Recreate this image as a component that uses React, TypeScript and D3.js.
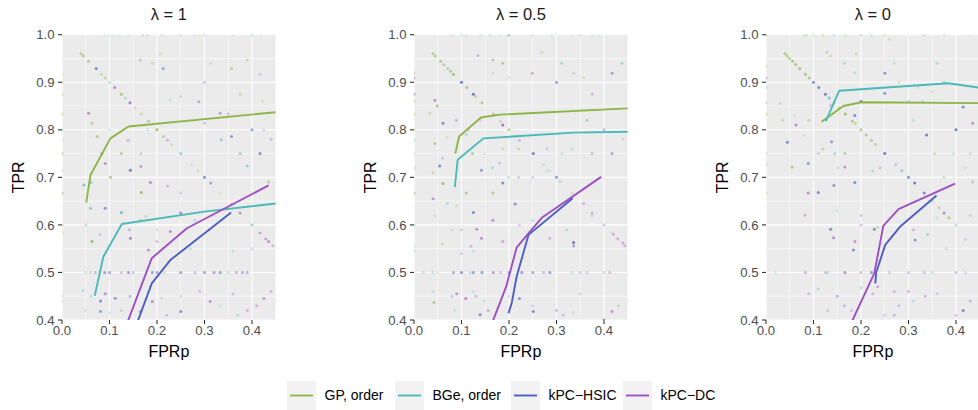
import React from "react";
import * as d3 from "d3";

// ---------- data ----------
const panelTitles = ["λ = 1", "λ = 0.5", "λ = 0"];
const methods = ["GP, order", "BGe, order", "kPC\u2212HSIC", "kPC\u2212DC"];
const methodColors = ["#8EB547", "#4ABAB8", "#4B5EBF", "#9B4FC1"];
const xTicks = [0, 0.1, 0.2, 0.3, 0.4];
const yTicks = [0.4, 0.5, 0.6, 0.7, 0.8, 0.9, 1.0];
const xMinor = [0.05, 0.15, 0.25, 0.35, 0.45];
const yMinor = [0.45, 0.55, 0.65, 0.75, 0.85, 0.95];

// curves: [fpr, tpr]
const linesL1: [number, number][][] = [
  [[0.051, 0.647], [0.06, 0.705], [0.102, 0.782], [0.14, 0.807], [0.45, 0.837]],
  [[0.069, 0.451], [0.087, 0.533], [0.126, 0.602], [0.3, 0.628], [0.45, 0.645]],
  [[0.153, 0.38], [0.189, 0.477], [0.228, 0.526], [0.356, 0.626]],
  [[0.132, 0.38], [0.189, 0.53], [0.263, 0.593], [0.435, 0.683]],
];
const linesL05: [number, number][][] = [
  [[0.087, 0.75], [0.095, 0.786], [0.141, 0.826], [0.181, 0.832], [0.45, 0.845]],
  [[0.086, 0.68], [0.092, 0.737], [0.146, 0.782], [0.336, 0.794], [0.45, 0.796]],
  [[0.199, 0.414], [0.206, 0.437], [0.216, 0.491], [0.241, 0.579], [0.334, 0.656]],
  [[0.159, 0.38], [0.194, 0.47], [0.216, 0.552], [0.241, 0.582], [0.269, 0.615], [0.394, 0.701]],
];
const linesL0: [number, number][][] = [
  [[0.117, 0.817], [0.163, 0.85], [0.201, 0.858], [0.46, 0.856]],
  [[0.126, 0.818], [0.154, 0.882], [0.384, 0.898], [0.46, 0.887]],
  [[0.23, 0.477], [0.232, 0.5], [0.251, 0.558], [0.282, 0.596], [0.359, 0.662]],
  [[0.173, 0.38], [0.228, 0.498], [0.247, 0.598], [0.279, 0.633], [0.398, 0.687]],
];

// scattered replicates: [fpr, tpr, method, alpha]
const pointsL1: [number, number, number, number][] = [
  [0, 1, 0, .3], [0.09, 1, 0, .2], [0.1, 1, 1, .2], [0.11, 1, 0, .2], [0.12, 1, 1, .2], [0.14, 1, 0, .2], [0.17, 1, 0, .3], [0.18, 1, 2, .2], [0.21, 1, 0, .25], [0.25, 1, 0, .3], [0.28, 1, 1, .2], [0.29, 1, 0, .3], [0.3, 1, 3, .2], [0.36, 1, 0, .2], [0.4, 1, 1, .35], [0.42, 1, 0, .2],
  [0, 0.917, 0, .2], [0, 0.9, 0, .3], [0, 0.875, 0, .3], [0, 0.833, 0, .4], [0, 0.8, 1, .3], [0, 0.778, 1, .2], [0, 0.75, 0, .45], [0, 0.714, 0, .2], [0, 0.667, 0, .5], [0, 0.6, 0, .3], [0, 0.583, 0, .2], [0, 0.5, 1, .3], [0, 0.45, 0, .25], [0, 0.44, 1, .2],
  [0.04, 0.96, 0, .5], [0.045, 0.955, 0, .5], [0.056, 0.944, 0, .45], [0.072, 0.929, 2, .6], [0.083, 0.917, 0, .3], [0.091, 0.909, 0, .35], [0.1, 0.9, 1, .3], [0.111, 0.889, 3, .55], [0.125, 0.875, 0, .6], [0.133, 0.867, 1, .3], [0.143, 0.857, 3, .65], [0.154, 0.846, 0, .25], [0.167, 0.833, 0, .3], [0.182, 0.818, 3, .3], [0.2, 0.8, 0, .7], [0.214, 0.786, 0, .4], [0.222, 0.778, 3, .3], [0.231, 0.769, 0, .25], [0.25, 0.75, 1, .5], [0.273, 0.727, 0, .2], [0.286, 0.714, 0, .25], [0.3, 0.7, 2, .6], [0.313, 0.688, 3, .5], [0.333, 0.667, 0, .2], [0.357, 0.643, 3, .35], [0.375, 0.625, 3, .5], [0.4, 0.6, 1, .45], [0.417, 0.583, 3, .4], [0.429, 0.571, 3, .4], [0.444, 0.556, 3, .3],
  [0.165, 0.947, 0, .45], [0.19, 0.94, 0, .25], [0.213, 0.929, 2, .45], [0.207, 0.96, 0, .2], [0.228, 0.863, 1, .2], [0.25, 0.87, 3, .2], [0.288, 0.859, 2, .35], [0.3, 0.9, 2, .25], [0.313, 0.94, 0, .2], [0.357, 0.929, 0, .4], [0.375, 0.875, 0, .3], [0.39, 0.947, 0, .3], [0.417, 0.917, 3, .2], [0.422, 0.86, 0, .2],
  [0.056, 0.835, 3, .5], [0.063, 0.814, 0, .45], [0.074, 0.786, 0, .5], [0.084, 0.75, 2, .45], [0.091, 0.729, 3, .5], [0.046, 0.684, 1, .6], [0.061, 0.689, 1, .5], [0.102, 0.7, 0, .6], [0.125, 0.75, 0, .5], [0.144, 0.715, 2, .7], [0.166, 0.723, 3, .45], [0.167, 0.668, 0, .7], [0.186, 0.689, 3, .55], [0.166, 0.75, 2, .2], [0.222, 0.682, 3, .3], [0.25, 0.667, 3, .25], [0.1, 0.8, 1, .2], [0.139, 0.778, 3, .3], [0.18, 0.8, 1, .2], [0.3, 0.814, 3, .3], [0.333, 0.835, 3, .45], [0.35, 0.833, 3, .3], [0.335, 0.779, 1, .5], [0.357, 0.786, 2, .5], [0.375, 0.75, 1, .45], [0.39, 0.724, 1, .5], [0.417, 0.75, 2, .6], [0.4, 0.8, 2, .5], [0.435, 0.69, 0, .5], [0.425, 0.8, 3, .2], [0.44, 0.78, 3, .3],
  [0.06, 0.635, 1, .5], [0.063, 0.565, 0, .75], [0.08, 0.58, 3, .25], [0.091, 0.635, 2, .55], [0.125, 0.626, 1, .7], [0.142, 0.59, 2, .3], [0.144, 0.572, 3, .6], [0.165, 0.61, 0, .5], [0.176, 0.618, 0, .25], [0.182, 0.547, 3, .5], [0.2, 0.59, 1, .2], [0.228, 0.586, 3, .55], [0.25, 0.625, 2, .6], [0.2, 0.565, 3, .3], [0.28, 0.61, 1, .3], [0.31, 0.59, 3, .25], [0.435, 0.565, 3, .5], [0.27, 0.55, 1, .25], [0.05, 0.6, 1, .3],
  [0.05, 0.5, 0, .3], [0.06, 0.5, 1, .3], [0.07, 0.5, 3, .35], [0.08, 0.5, 1, .3], [0.09, 0.5, 2, .5], [0.1, 0.5, 2, .5], [0.125, 0.5, 3, .3], [0.14, 0.5, 2, .5], [0.15, 0.5, 3, .3], [0.19, 0.5, 2, .5], [0.2, 0.5, 3, .5], [0.215, 0.5, 1, .3], [0.25, 0.5, 2, .5], [0.28, 0.5, 3, .3], [0.3, 0.5, 2, .5], [0.32, 0.5, 3, .5], [0.333, 0.5, 2, .5], [0.35, 0.5, 1, .3], [0.367, 0.5, 3, .4], [0.38, 0.5, 2, .4], [0.39, 0.5, 3, .4],
  [0.045, 0.462, 1, .25], [0.061, 0.45, 1, .3], [0.05, 0.42, 0, .2], [0.081, 0.44, 2, .6], [0.091, 0.455, 3, .55], [0.112, 0.446, 3, .55], [0.081, 0.418, 2, .5], [0.1, 0.415, 1, .2], [0.125, 0.42, 0, .3], [0.143, 0.45, 2, .3], [0.165, 0.418, 3, .5], [0.19, 0.439, 3, .55], [0.21, 0.445, 1, .2], [0.22, 0.41, 3, .25], [0.25, 0.418, 2, .6], [0.25, 0.45, 1, .2], [0.29, 0.46, 3, .25], [0.312, 0.439, 3, .5], [0.333, 0.43, 1, .2], [0.36, 0.455, 3, .25], [0.37, 0.41, 1, .3], [0.39, 0.42, 3, .3], [0.41, 0.43, 3, .35], [0.425, 0.445, 3, .45], [0.44, 0.46, 3, .3], [0.4, 0.55, 3, .2], [0.36, 0.545, 1, .25],
];

const pointsL05: [number, number, number, number][] = [
  [0, 1, 0, .4], [0.08, 1, 0, .25], [0.1, 1, 1, .3], [0.11, 1, 0, .25], [0.14, 1, 1, .25], [0.16, 1, 0, .3], [0.18, 1, 1, .2], [0.2, 1, 2, .5], [0.25, 1, 0, .25], [0.29, 1, 1, .25], [0.333, 1, 0, .2], [0.35, 1, 1, .25], [0.375, 1, 0, .2], [0.39, 1, 1, .2],
  [0, 0.92, 0, .35], [0, 0.909, 3, .4], [0, 0.875, 2, .4], [0, 0.86, 0, .3], [0, 0.833, 0, .3], [0, 0.8, 0, .25], [0, 0.778, 1, .3], [0, 0.75, 0, .2], [0, 0.72, 0, .3], [0, 0.667, 0, .5], [0, 0.6, 1, .25], [0, 0.556, 1, .2], [0, 0.545, 1, .25],
  [0.04, 0.96, 0, .5], [0.045, 0.955, 0, .45], [0.056, 0.944, 0, .5], [0.063, 0.937, 0, .45], [0.071, 0.929, 1, .4], [0.077, 0.923, 0, .5], [0.083, 0.917, 0, .6], [0.1, 0.9, 2, .7], [0.111, 0.889, 0, .6], [0.125, 0.875, 2, .7], [0.13, 0.87, 0, .4], [0.143, 0.857, 0, .5], [0.167, 0.833, 0, .5], [0.182, 0.818, 0, .3], [0.2, 0.8, 0, .5], [0.214, 0.786, 1, .3], [0.222, 0.778, 3, .3], [0.273, 0.727, 1, .2], [0.286, 0.714, 0, .2], [0.3, 0.7, 2, .55], [0.308, 0.692, 1, .3], [0.333, 0.667, 0, .2], [0.375, 0.625, 3, .3], [0.4, 0.6, 3, .3], [0.417, 0.583, 0, .2], [0.429, 0.571, 3, .35], [0.444, 0.556, 3, .3],
  [0.135, 0.956, 3, .3], [0.269, 0.963, 0, .25], [0.166, 0.947, 0, .45], [0.187, 0.94, 0, .55], [0.166, 0.919, 1, .2], [0.2, 0.91, 0, .2], [0.249, 0.919, 3, .4], [0.311, 0.94, 1, .35], [0.3, 0.9, 2, .5], [0.336, 0.919, 1, .25], [0.357, 0.91, 0, .2], [0.375, 0.875, 3, .3], [0.417, 0.919, 3, .5], [0.438, 0.94, 1, .4],
  [0.044, 0.862, 3, .5], [0.049, 0.85, 0, .6], [0.033, 0.835, 0, .25], [0.061, 0.814, 2, .6], [0.089, 0.82, 3, .3], [0.11, 0.79, 1, .3], [0.115, 0.8, 3, .2], [0.14, 0.82, 0, .2], [0.187, 0.81, 3, .7], [0.044, 0.771, 0, .5], [0.07, 0.785, 0, .2], [0.06, 0.74, 3, .2], [0.123, 0.75, 0, .5], [0.148, 0.75, 0, .2], [0.187, 0.76, 0, .25], [0.22, 0.76, 0, .3], [0.251, 0.75, 2, .7], [0.28, 0.76, 3, .2], [0.311, 0.75, 1, .2], [0.333, 0.76, 1, .25], [0.364, 0.82, 1, .4], [0.375, 0.75, 0, .45], [0.4, 0.8, 3, .4], [0.417, 0.75, 3, .45], [0.44, 0.78, 0, .2],
  [0.054, 0.724, 2, .6], [0.061, 0.687, 0, .7], [0.04, 0.71, 0, .3], [0.11, 0.667, 0, .5], [0.142, 0.715, 2, .5], [0.165, 0.72, 1, .3], [0.18, 0.73, 3, .25], [0.166, 0.667, 0, .5], [0.187, 0.688, 2, .6], [0.199, 0.7, 1, .3], [0.22, 0.7, 3, .25], [0.25, 0.7, 3, .2], [0.28, 0.715, 0, .2],
  [0.04, 0.655, 3, .5], [0.07, 0.645, 1, .3], [0.09, 0.64, 0, .2], [0.044, 0.62, 1, .2], [0.125, 0.626, 2, .6], [0.08, 0.59, 1, .2], [0.1, 0.59, 3, .25], [0.132, 0.591, 3, .5], [0.142, 0.572, 3, .5], [0.166, 0.61, 3, .5], [0.187, 0.565, 3, .4], [0.213, 0.644, 2, .55], [0.222, 0.6, 3, .25], [0.25, 0.61, 1, .25], [0.286, 0.572, 3, .3], [0.321, 0.59, 1, .3], [0.336, 0.563, 2, .7], [0.336, 0.556, 3, .5], [0.357, 0.645, 3, .3], [0.375, 0.62, 1, .2], [0.42, 0.58, 3, .3], [0.44, 0.562, 3, .35], [0.12, 0.555, 3, .3], [0.1, 0.54, 3, .25], [0.125, 0.545, 1, .2], [0.06, 0.56, 0, .25],
  [0.02, 0.5, 1, .25], [0.04, 0.5, 1, .3], [0.05, 0.5, 0, .2], [0.083, 0.5, 2, .4], [0.1, 0.5, 2, .6], [0.118, 0.5, 1, .3], [0.125, 0.5, 2, .5], [0.143, 0.5, 2, .5], [0.167, 0.5, 3, .5], [0.182, 0.5, 3, .3], [0.2, 0.5, 2, .5], [0.227, 0.5, 2, .5], [0.25, 0.5, 3, .5], [0.273, 0.5, 3, .3], [0.286, 0.5, 2, .5], [0.333, 0.5, 1, .25], [0.35, 0.5, 3, .25], [0.364, 0.5, 1, .3], [0.4, 0.5, 3, .2], [0.412, 0.5, 3, .3],
  [0.042, 0.437, 0, .5], [0.04, 0.46, 1, .25], [0.09, 0.455, 3, .45], [0.08, 0.45, 3, .25], [0.109, 0.445, 3, .6], [0.125, 0.46, 1, .2], [0.13, 0.45, 3, .3], [0.148, 0.44, 1, .25], [0.156, 0.42, 2, .3], [0.085, 0.42, 1, .2], [0.139, 0.411, 2, .6], [0.2, 0.45, 3, .2], [0.222, 0.445, 2, .55], [0.251, 0.418, 2, .6], [0.3, 0.42, 2, .3], [0.314, 0.41, 3, .25], [0.335, 0.415, 1, .2], [0.4, 0.4, 2, .6], [0.417, 0.418, 3, .5], [0.43, 0.43, 1, .3], [0.35, 0.455, 1, .25], [0.25, 0.43, 3, .2],
];

const pointsL0: [number, number, number, number][] = [
  [0, 1, 0, .6], [0.08, 1, 0, .3], [0.085, 1, 1, .3], [0.1, 1, 0, .3], [0.12, 1, 0, .35], [0.143, 1, 1, .25], [0.167, 1, 0, .3], [0.2, 1, 3, .3], [0.222, 1, 1, .3], [0.25, 1, 0, .3], [0.333, 1, 1, .3], [0.375, 1, 1, .25], [0.43, 1, 0, .2],
  [0, 0.934, 0, .3], [0, 0.909, 3, .35], [0, 0.889, 1, .3], [0, 0.857, 3, .25], [0, 0.833, 0, .35], [0, 0.75, 3, .2], [0, 0.727, 3, .2], [0, 0.7, 0, .2], [0, 0.667, 0, .3],
  [0.04, 0.96, 0, .55], [0.045, 0.955, 0, .5], [0.05, 0.95, 0, .5], [0.056, 0.944, 0, .55], [0.0625, 0.9375, 0, .55], [0.071, 0.929, 0, .6], [0.083, 0.917, 0, .6], [0.091, 0.909, 0, .55], [0.1, 0.9, 2, .6], [0.111, 0.889, 2, .6], [0.125, 0.875, 2, .65], [0.133, 0.867, 1, .6], [0.143, 0.857, 1, .5], [0.154, 0.846, 0, .5], [0.167, 0.833, 0, .7], [0.182, 0.818, 0, .5], [0.188, 0.813, 0, .4], [0.2, 0.8, 0, .55], [0.211, 0.789, 0, .5], [0.222, 0.778, 0, .45], [0.231, 0.769, 0, .4], [0.25, 0.75, 2, .7], [0.273, 0.727, 3, .25], [0.286, 0.714, 1, .5], [0.3, 0.7, 2, .6], [0.313, 0.688, 2, .7], [0.333, 0.667, 2, .65], [0.35, 0.65, 1, .3], [0.364, 0.636, 0, .35], [0.375, 0.625, 2, .5], [0.385, 0.615, 0, .5], [0.4, 0.6, 1, .3],
  [0.03, 0.856, 0, .25], [0.045, 0.774, 2, .6], [0.035, 0.82, 0, .3], [0.055, 0.722, 0, .55], [0.06, 0.83, 1, .2], [0.063, 0.81, 3, .55], [0.08, 0.788, 0, .2], [0.09, 0.82, 0, .35], [0.082, 0.621, 3, .35], [0.089, 0.729, 2, .5], [0.089, 0.667, 3, .5], [0.11, 0.668, 2, .6], [0.11, 0.75, 1, .3], [0.12, 0.76, 0, .35], [0.128, 0.963, 0, .3], [0.136, 0.955, 0, .25], [0.136, 0.851, 3, .3], [0.138, 0.775, 2, .5], [0.145, 0.75, 1, .35], [0.136, 0.591, 2, .6], [0.142, 0.573, 3, .55], [0.143, 0.683, 2, .55], [0.15, 0.63, 1, .2], [0.152, 0.72, 1, .25], [0.166, 0.722, 3, .5], [0.166, 0.75, 0, .45], [0.187, 0.689, 2, .6], [0.187, 0.565, 3, .5], [0.184, 0.547, 2, .6], [0.165, 0.94, 1, .3], [0.19, 0.96, 0, .25], [0.187, 0.92, 1, .25], [0.2, 0.86, 2, .6], [0.187, 0.83, 2, .6], [0.2, 0.62, 3, .25], [0.2, 0.6, 3, .3], [0.225, 0.713, 1, .3], [0.235, 0.595, 0, .3], [0.24, 0.72, 3, .25], [0.228, 0.591, 2, .6], [0.25, 0.919, 2, .55], [0.25, 0.877, 2, .55], [0.26, 0.99, 0, .2], [0.27, 0.94, 1, .2], [0.28, 0.9, 0, .25], [0.3, 0.86, 3, .2], [0.31, 0.82, 1, .25], [0.32, 0.89, 0, .25], [0.314, 0.568, 2, .55], [0.31, 0.59, 3, .3], [0.338, 0.789, 2, .7], [0.33, 0.86, 1, .3], [0.35, 0.88, 0, .2], [0.355, 0.75, 0, .3], [0.36, 0.94, 1, .3], [0.375, 0.9, 1, .4], [0.375, 0.7, 0, .3], [0.395, 0.75, 1, .2], [0.4, 0.8, 2, .7], [0.415, 0.848, 2, .6], [0.435, 0.814, 3, .5], [0.43, 0.75, 1, .25], [0.435, 0.69, 3, .3], [0.42, 0.72, 1, .2], [0.36, 0.615, 1, .2], [0.34, 0.58, 1, .4], [0.38, 0.55, 1, .2], [0.42, 0.57, 3, .2], [0.43, 0.62, 3, .2],
  [0.02, 0.5, 1, .2], [0.083, 0.5, 3, .4], [0.125, 0.5, 3, .3], [0.13, 0.5, 1, .3], [0.166, 0.5, 3, .55], [0.2, 0.5, 2, .3], [0.222, 0.5, 2, .5], [0.26, 0.5, 3, .25], [0.3, 0.5, 2, .3], [0.333, 0.5, 3, .3], [0.35, 0.5, 1, .3], [0.4, 0.5, 3, .3], [0.42, 0.5, 3, .2],
  [0.09, 0.455, 3, .3], [0.11, 0.465, 1, .3], [0.13, 0.42, 3, .2], [0.15, 0.45, 2, .35], [0.165, 0.43, 3, .3], [0.18, 0.42, 3, .25], [0.2, 0.468, 1, .3], [0.225, 0.455, 3, .3], [0.235, 0.47, 3, .35], [0.27, 0.46, 3, .3], [0.3, 0.46, 3, .35], [0.31, 0.44, 1, .25], [0.335, 0.45, 3, .3], [0.36, 0.455, 3, .2], [0.415, 0.42, 2, .6], [0.4, 0.41, 3, .25], [0.43, 0.44, 3, .3], [0.25, 0.41, 3, .2], [0.27, 0.41, 2, .3], [0.28, 0.43, 3, .25],
];

const panelLines = [linesL1, linesL05, linesL0];
const panelPoints = [pointsL1, pointsL05, pointsL0];

// ---------- layout ----------
const W = 978;
const H = 410;
const panelLefts = [62, 414, 766];
const panelW = 213.75;
const top = 34.7;
const bottom = 320;
const FONT = "'Liberation Sans', Arial, Helvetica, sans-serif";

function Panel({ idx }: { idx: number }) {
  const x0 = panelLefts[idx];
  const x = d3.scaleLinear().domain([0, 0.45]).range([x0, x0 + panelW]);
  const y = d3.scaleLinear().domain([0.4, 1.0]).range([bottom, top]);
  const line = d3
    .line<[number, number]>()
    .x((d) => x(d[0]))
    .y((d) => y(d[1]));
  const clipId = `clip-${idx}`;
  const cx = (x0 + x0 + panelW) / 2;
  return (
    <g>
      <defs>
        <clipPath id={clipId}>
          <rect x={x0} y={top} width={panelW} height={bottom - top} />
        </clipPath>
      </defs>
      <rect x={x0} y={top} width={panelW} height={bottom - top} fill="#EBEBEB" />
      <g clipPath={`url(#${clipId})`}>
        {xMinor.map((t) => (
          <line key={"xm" + t} x1={x(t)} x2={x(t)} y1={top} y2={bottom} stroke="#fff" strokeWidth={0.55} />
        ))}
        {yMinor.map((t) => (
          <line key={"ym" + t} x1={x0} x2={x0 + panelW} y1={y(t)} y2={y(t)} stroke="#fff" strokeWidth={0.55} />
        ))}
        {xTicks.map((t) => (
          <line key={"xM" + t} x1={x(t)} x2={x(t)} y1={top} y2={bottom} stroke="#fff" strokeWidth={1.1} />
        ))}
        {yTicks.map((t) => (
          <line key={"yM" + t} x1={x0} x2={x0 + panelW} y1={y(t)} y2={y(t)} stroke="#fff" strokeWidth={1.1} />
        ))}
        {panelPoints[idx].map((p, i) => (
          <circle key={"p" + i} cx={x(p[0])} cy={y(p[1])} r={1.5} fill={methodColors[p[2]]} fillOpacity={Math.min(1, p[3] * 1.1)} />
        ))}
        {panelLines[idx].map((ln, m) => (
          <path key={"l" + m} d={line(ln) || ""} fill="none" stroke={methodColors[m]} strokeWidth={1.9} strokeLinejoin="round" />
        ))}
      </g>
      {xTicks.map((t) => (
        <g key={"xt" + t}>
          <line x1={x(t)} x2={x(t)} y1={bottom} y2={bottom + 4} stroke="#333" strokeWidth={1.1} />
          <text x={x(t)} y={334.5} textAnchor="middle" fontSize={13.2} fill="#4D4D4D" fontFamily={FONT}>
            {d3.format(".1f")(t)}
          </text>
        </g>
      ))}
      {yTicks.map((t) => (
        <g key={"yt" + t}>
          <line x1={x0 - 4} x2={x0} y1={y(t)} y2={y(t)} stroke="#333" strokeWidth={1.1} />
          <text x={x0 - 7.5} y={y(t)} dy="0.35em" textAnchor="end" fontSize={13.2} fill="#4D4D4D" fontFamily={FONT}>
            {d3.format(".1f")(t)}
          </text>
        </g>
      ))}
      <text x={cx} y={20} textAnchor="middle" fontSize={16.5} fill="#1A1A1A" fontFamily={FONT}>
        {panelTitles[idx]}
      </text>
      <text x={cx} y={357} textAnchor="middle" fontSize={16} fill="#000" fontFamily={FONT}>
        FPRp
      </text>
      <text
        transform={`translate(${x0 - 38.5},${(top + bottom) / 2}) rotate(-90)`}
        textAnchor="middle"
        fontSize={16}
        fill="#000"
        fontFamily={FONT}
      >
        TPR
      </text>
    </g>
  );
}

const legendKeyX = [287, 395, 511, 623];

export default function App() {
  return (
    <svg
      width={W}
      height={H}
      viewBox={`0 0 ${W} ${H}`}
      style={{ position: "absolute", left: 0, top: 0, background: "#fff" }}
    >
      <rect x={0} y={0} width={W} height={H} fill="#fff" />
      {panelTitles.map((_, i) => (
        <Panel key={i} idx={i} />
      ))}
      {methods.map((m, i) => (
        <g key={m}>
          <rect x={legendKeyX[i]} y={381} width={29} height={29} fill="#F2F2F2" />
          <line x1={legendKeyX[i] + 3} x2={legendKeyX[i] + 26} y1={395.5} y2={395.5} stroke={methodColors[i]} strokeWidth={1.9} />
          <text x={legendKeyX[i] + 37.5} y={395.5} dy="0.35em" fontSize={14} fill="#000" fontFamily={FONT}>
            {m}
          </text>
        </g>
      ))}
    </svg>
  );
}
